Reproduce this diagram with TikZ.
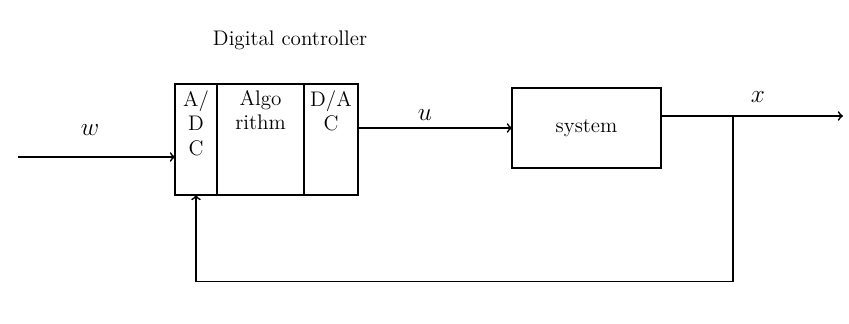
\documentclass[tikz,border=0pt]{standalone}
\usepackage{tikz}
\usetikzlibrary{positioning}

\tikzset{
  blk/.style={draw, line width=1pt, outer sep=0pt, minimum height=2.22cm},
  sig/.style={line width=1pt}
}

\begin{document}
\begin{tikzpicture}
                    \useasboundingbox (0,0) rectangle (16.98,6.48);

                    % Digital controller
                    \node[blk, minimum width=0.84cm] (adc) at (3.92,3.69) {};
                    \node[blk, minimum width=1.74cm, right=0cm of adc] (algo) {};
                    \node[blk, minimum width=1.08cm, right=0cm of algo] (dac) {};
                    \node[below=0pt of adc.north, align=center, font=\large] (adctxt) {A/\\D\\C};
                    \node[below=0pt of algo.north, align=center, font=\large] (algotxt) {Algo\\rithm};
                    \node[below=0pt of dac.north, align=center, font=\large] (dactxt) {D/A\\C};
                    \node at (5.8,5.68) (title) {\large Digital controller};

                    % System
                    \node[blk, minimum width=2.98cm, minimum height=1.6cm, font=\large] (sys) at (11.73,3.92) {system};

                    % Signals
                    \coordinate (win) at (0.36,3.34);
                    \coordinate (xout) at (16.86,4.16);
                    \coordinate (br) at (14.66,4.16);
                    \draw[sig,->] (win) -- (win -| adc.west);
                    \node at (1.8,3.88) (w) {\Large $w$};
                    \draw[sig,->] (dac.east |- sys.west) -- (sys.west);
                    \node at (8.5,4.18) (u) {\Large $u$};
                    \draw[sig,->] (sys.east |- xout) -- (xout);
                    \node at (15.16,4.54) (x) {\Large $x$};

                    % Feedback
                    \draw[sig,->] (br) -- ++(0,-3.31) -| (adc.south);
                \end{tikzpicture}
\end{document}
